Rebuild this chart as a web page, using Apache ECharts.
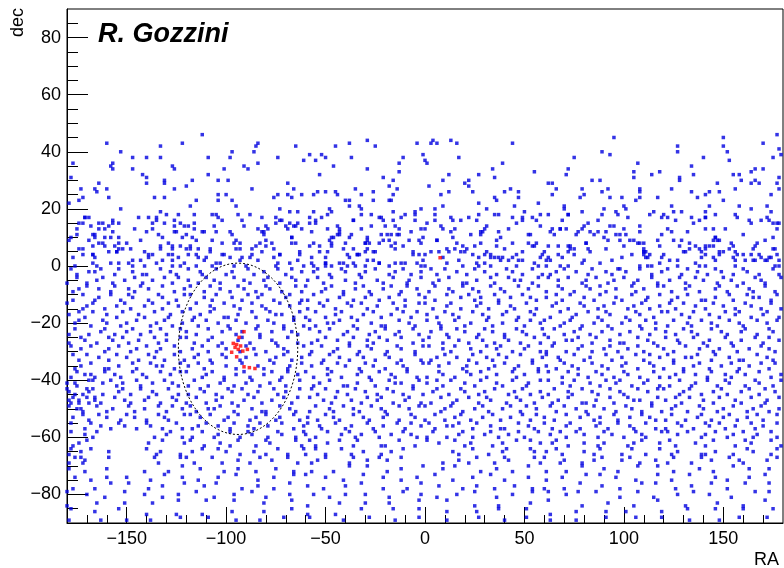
<!DOCTYPE html>
<html><head><meta charset="utf-8">
<script src="https://cdn.jsdelivr.net/npm/echarts@6/dist/echarts.min.js"></script>
<style>html,body{margin:0;padding:0;background:#fff}#c{width:784px;height:568px}</style>
</head><body><div id="c"></div>
<script>
// Axis ticks
const xTicks = [-150,-100,-50,0,50,100,150];
const xMinorTicks = [-170,-160,-140,-130,-120,-110,-90,-80,-70,-60,-40,-30,-20,-10,10,20,30,40,60,70,80,90,110,120,130,140,160,170];
const yTicks = [-80,-60,-40,-20,0,20,40,60,80];
const yMinorTicks = [-85,-75,-70,-65,-55,-50,-45,-35,-30,-25,-15,-10,-5,5,10,15,25,30,35,45,50,55,65,70,75,85];
const xTitle = 'RA';
const yTitle = 'dec';
const author = 'R. Gozzini';
const ellipseCenter = [-94, -29];
const ellipseRadii = [30, 30];

// Points as consecutive (RA, dec) pairs
const blueNorthWest = [-112,46,-160,43,-122,43,-84,43,-85,42,-65,42,-133,42,-153,40,-97,40,-86,40,-147,38,-140,38,-133,38,-109,38,-98,38,-74,38,-177,36,-61,37,-157,36,-158,35,-127,35,-157,34,-126,34,-147,34,-101,34,-91,35,-89,34,-84,36,-178,31,-142,32,-140,31,-109,32,-131,30,-131,29,-117,30,-104,30,-99,30,-140,29,-164,29,-69,29,-173,27,-166,27,-160,27,-126,27,-120,28,-87,27,-66,27,-165,26,-74,25,-62,25,-104,25,-100,25,-159,24,-136,24,-131,24,-115,23,-172,24,-174,23,-104,23,-97,23,-69,25,-67,24,-76,24,-179,22,-153,20,-118,21,-95,21,-133,19,-73,20,-68,19,-64,19,-107,18,-105,18,-104,17,-135,17,-124,18,-94,18,-82,17,-169,17,-171,17,-174,15,-172,15,-164,15,-157,15,-154,15,-139,17,-135,16,-137,15,-126,16,-123,15,-116,15,-72,16,-73,16,-75,15,-68,15,-66,14,-70,14,-69,13,-64,15,-80,14,-92,16,-168,14,-161,13,-159,14,-126,14,-164,13,-137,13,-126,12,-121,14,-116,13,-111,12,-105,12,-98,12,-84,13,-82,12,-81,12,-62,13,-175,11,-167,11,-157,12,-134,11,-132,10,-120,11,-166,10,-158,10,-161,10,-154,8,-122,10,-117,10,-107,9,-96,8,-93,8,-80,9,-67,10,-65,8,-83,8,-80,7,-167,7,-164,8,-162,8,-156,7,-154,6,-129,8,-127,7,-118,7,-127,6,-174,6,-159,5,-155,5,-152,6,-141,5,-133,6,-120,6,-114,6,-108,6,-95,6,-87,6,-76,6,-73,4,-63,5,-172,4,-167,4,-143,2,-139,4,-127,4,-124,3,-119,4,-115,4,-110,3,-102,4,-98,3,-87,4,-88,3,-114,3,-167,1,-165,0,-154,1,-147,2,-147,0,-141,0,-135,1,-127,2,-127,0,-123,0,-115,0,-107,0,-103,1,-96,0,-93,2,-90,0,-74,1,-75,0,-64,2,-61,0,-176,0];
const blueNorthMid = [-29,44,-38,43,-45,42,-25,42,-4,43,3,43,4,44,6,43,13,44,16,43,44,43,-58,39,-55,37,-52,39,-50,38,-37,38,-46,35,-11,38,-13,36,-1,39,0,37,1,36,17,38,39,36,34,34,-29,34,-53,32,-13,33,-21,31,-16,30,12,32,9,30,20,29,22,30,22,28,27,32,35,31,55,33,2,28,-18,28,-14,27,-17,23,-35,27,-54,26,-50,26,-45,26,-44,25,-56,25,-26,26,-32,25,-16,25,12,26,8,25,24,26,35,24,36,23,40,26,43,27,47,26,47,24,57,22,-40,23,-38,23,-38,21,-26,23,-18,23,27,22,31,20,-33,21,-32,20,9,21,-56,19,-47,19,-48,20,-5,19,-2,20,5,20,-16,19,45,21,50,19,-58,17,-55,16,-52,17,-32,18,-27,18,-5,18,-5,16,5,18,13,17,14,16,18,16,27,18,26,16,37,18,44,17,49,17,54,17,56,16,58,18,-36,16,-22,17,-21,16,-20,14,-16,16,-15,14,-12,17,-58,15,-49,13,-44,14,-43,12,-32,13,-7,12,-2,13,0,13,8,14,9,13,30,13,29,12,28,11,23,11,37,12,42,13,53,11,-47,10,-46,10,-43,11,-37,11,-38,10,-22,11,-19,11,-17,11,-13,11,-58,7,-53,7,-47,8,-47,7,-29,9,-30,8,-28,8,-23,8,-21,9,-17,7,-15,8,-8,9,-3,9,6,9,14,10,19,7,21,6,15,6,28,8,36,7,52,8,56,8,55,7,-36,6,-29,6,-30,5,-34,4,-33,4,-39,4,-49,5,-50,3,-26,5,-6,5,-3,4,0,4,7,5,12,5,18,5,24,4,27,3,31,5,33,4,33,3,37,3,39,3,44,3,46,4,49,2,58,3,-57,1,-56,0,-50,1,-50,0,-47,0,-43,1,-41,1,-39,0,-36,1,-35,0,-30,0,-26,2,-23,1,-18,0,-15,1,-10,1,-4,1,-2,0,0,0,11,1,19,0,27,0,30,1,33,0,38,2,46,0,47,2,57,0];
const blueNorthEast = [95,45,150,45,177,46,127,42,127,40,89,40,93,39,75,38,170,43,150,42,152,40,140,38,153,37,175,38,179,39,178,41,107,36,134,35,72,34,71,32,105,33,105,31,114,32,118,33,135,32,128,31,128,30,155,32,158,32,159,30,164,33,166,34,170,34,62,29,64,29,66,27,84,30,88,30,92,27,89,26,79,27,80,25,78,24,64,25,108,27,108,26,124,27,164,29,166,30,168,29,177,29,178,31,178,27,147,29,134,26,141,25,143,26,148,26,156,27,174,25,93,24,99,24,106,23,108,24,117,24,137,24,150,23,70,21,70,20,90,20,89,18,100,21,101,20,79,19,96,19,97,18,124,21,125,19,115,19,141,19,143,21,141,17,158,21,164,20,172,21,174,19,62,18,72,18,129,19,134,17,119,17,120,18,122,17,138,16,146,18,157,17,172,17,173,16,175,15,69,16,64,13,68,13,71,13,77,12,80,14,79,13,83,12,85,11,87,12,90,10,95,14,100,13,96,11,98,11,108,12,124,12,141,13,145,13,163,16,177,13,177,15,65,11,125,9,129,9,146,10,148,9,103,9,105,9,98,9,67,7,73,7,81,8,82,6,108,8,110,8,110,6,118,7,133,8,133,6,141,7,141,6,143,7,145,7,145,9,148,5,155,7,167,8,175,6,60,5,62,3,63,2,72,5,73,6,75,4,79,1,94,2,110,5,111,5,110,4,113,4,112,3,119,3,123,2,130,5,139,5,141,4,145,3,150,5,153,6,156,5,160,4,164,4,168,4,169,3,171,2,172,2,173,3,177,4,178,2,61,0,68,0,72,0,98,-1,108,0,112,0,114,0,127,0,136,1,138,0,141,0,156,2,156,0,161,2,166,2,176,0,178,0];
const blueNorthFill = [-177,3,-166,3,-158,1,-149,1,-139,3,-132,2,-121,1,-111,2,-105,1,-92,3,-84,2,-76,3,-68,1,
-172,6,-167,4,-155,5,-148,6,-137,4,-129,4,-118,6,-108,5,-101,4,-93,6,-82,5,-73,4,-63,4,
-179,9,-169,9,-161,7,-150,8,-143,9,-133,7,-123,7,-115,9,-102,8,-95,9,-85,7,-77,8,-67,8,
-178,10,-166,11,-154,10,-140,12,-125,12,-112,12,-97,11,-81,11,-67,10,
-175,13,-162,15,-146,13,-131,15,-119,14,-106,14,-91,14,-79,13,-65,14,
-171,17,-157,16,-144,17,-130,18,-116,18,-102,16,-88,18,-75,17,
-57,3,-50,1,-38,3,-29,2,-23,1,-12,1,-1,2,9,3,17,2,26,1,35,3,42,2,55,1,
-53,5,-41,6,-34,4,-25,5,-15,6,-6,4,3,5,11,6,20,5,30,4,40,6,49,5,59,4,
-56,8,-48,9,-40,8,-30,8,-18,9,-11,7,-2,8,6,9,16,8,25,7,36,9,44,8,54,7,
-57,12,-44,11,-29,10,-14,11,-1,10,13,12,28,12,38,10,52,11,
-55,15,-43,13,-27,14,-13,13,1,15,15,13,31,14,46,15,58,14,
-49,18,-36,16,-23,17,-10,18,5,16,22,17,35,18,49,16,
61,2,69,3,80,2,88,1,99,3,111,3,118,1,127,2,139,3,146,2,155,3,165,2,174,3,
67,4,75,6,83,5,91,6,104,4,110,5,120,4,131,5,138,6,148,4,157,4,165,6,176,6,
62,7,72,7,81,8,92,9,100,7,107,8,117,9,128,7,136,7,147,9,154,8,166,7,171,9,
63,12,76,11,91,12,101,11,119,11,132,12,146,10,160,11,175,10,
68,13,82,15,93,14,108,14,122,13,135,15,151,13,164,15,178,15,
72,18,87,16,102,17,113,18,126,16,141,17,156,18,169,16];
const blueSouthWest = [-178,-1,-175,-3,-169,-2,-166,-2,-163,-1,-156,-3,-154,-1,-147,-2,-142,-3,-140,-3,-133,-1,-128,-2,-125,-3,-119,-1,-113,-2,-112,-3,-105,-1,-100,-3,-97,-2,-89,-1,-86,-3,-81,-2,-74,-1,-70,-3,-67,-1,-62,-2,
-180,-6,-175,-4,-170,-6,-165,-5,-162,-4,-157,-6,-151,-5,-146,-4,-142,-6,-137,-5,-131,-4,-127,-6,-124,-4,-119,-5,-114,-6,-110,-4,-106,-5,-103,-6,-96,-4,-91,-5,-88,-6,-81,-5,-79,-4,-73,-6,-67,-4,-65,-5,
-177,-9,-174,-8,-170,-7,-164,-8,-158,-9,-156,-7,-149,-8,-146,-9,-143,-7,-139,-8,-132,-7,-126,-9,-121,-8,-118,-7,-111,-9,-108,-7,-103,-8,-98,-9,-94,-7,-91,-8,-85,-9,-80,-7,-78,-8,-72,-9,-65,-7,-62,-9,
-177,-12,-172,-10,-166,-12,-164,-11,-158,-10,-153,-12,-149,-10,-147,-11,-139,-12,-134,-10,-132,-11,-125,-12,-121,-10,-118,-10,-111,-11,-107,-12,-105,-10,-97,-11,-92,-12,-89,-10,-84,-11,-82,-10,-76,-12,-70,-11,-68,-10,-62,-12,
-180,-13,-172,-15,-170,-14,-167,-13,-161,-15,-155,-14,-151,-13,-148,-15,-141,-14,-137,-13,-132,-15,-129,-13,-124,-14,-118,-15,-115,-13,-108,-14,-106,-15,-101,-13,-96,-14,-93,-15,-87,-13,-82,-14,-80,-15,-73,-13,-68,-14,-63,-13,
-179,-17,-174,-16,-171,-18,-167,-16,-160,-17,-155,-18,-152,-16,-144,-17,-141,-18,-136,-16,-129,-18,-128,-17,-122,-16,-116,-18,-113,-17,-108,-16,-101,-18,-99,-18,-94,-17,-87,-16,-85,-18,-78,-16,-75,-17,-72,-17,-66,-18,-63,-16,
-176,-20,-174,-19,-168,-21,-162,-19,-160,-20,-153,-21,-150,-20,-145,-19,-138,-21,-135,-20,-131,-19,-127,-21,-122,-20,-117,-19,-114,-21,-110,-19,-104,-20,-99,-21,-95,-19,-90,-20,-84,-21,-79,-19,-76,-20,-71,-21,-66,-19,-61,-21,
-179,-24,-176,-22,-169,-24,-163,-23,-161,-22,-156,-24,-150,-23,-147,-22,-143,-24,-138,-23,-133,-22,-130,-24,-123,-22,-120,-23,-115,-24,-109,-22,-102,-23,-98,-22,-95,-24,-92,-23,-85,-22,-83,-24,-77,-23,-71,-22,-67,-23,-64,-24,
-179,-27,-173,-25,-171,-26,-165,-27,-159,-25,-157,-26,-152,-25,-149,-27,-144,-26,-136,-25,-134,-27,-130,-26,-123,-25,-120,-25,-116,-27,-109,-26,-107,-25,-102,-27,-94,-26,-92,-25,-88,-27,-83,-25,-77,-26,-75,-27,-69,-25,-64,-27,
-178,-28,-173,-29,-168,-28,-161,-30,-159,-29,-154,-28,-148,-30,-145,-29,-140,-28,-135,-30,-133,-29,-126,-28,-123,-30,-117,-29,-112,-28,-109,-30,-104,-28,-100,-29,-93,-30,-90,-28,-86,-29,-80,-30,-74,-28,-71,-29,-69,-30,-61,-28,
-116,-32,-114,-31,-108,-33,-102,-31,-100,-32,-93,-33,-90,-32,-85,-31,-78,-33,-75,-32,-71,-31,-67,-33,-62,-32,-177,-31,-174,-33,-170,-31,-164,-32,-159,-33,-155,-31,-150,-32,-144,-33,-139,-31,-136,-32,-131,-33,-126,-31,-121,-33,
-119,-35,-114,-34,-111,-36,-107,-34,-100,-35,-95,-36,-92,-34,-84,-35,-81,-36,-76,-34,-69,-36,-68,-35,-62,-34,-176,-36,-173,-35,-168,-34,-161,-36,-159,-36,-154,-35,-147,-34,-145,-36,-138,-34,-135,-35,-132,-35,-126,-36,-123,-34,
-120,-37,-112,-39,-110,-38,-107,-37,-101,-39,-95,-38,-91,-37,-88,-39,-81,-38,-77,-37,-72,-39,-69,-37,-64,-38,-178,-39,-175,-37,-168,-38,-166,-39,-161,-37,-156,-38,-153,-39,-147,-37,-142,-38,-140,-39,-133,-37,-128,-38,-123,-37,
-119,-42,-116,-40,-109,-42,-103,-41,-101,-40,-96,-42,-90,-41,-87,-40,-83,-42,-78,-41,-73,-40,-70,-42,-63,-40,-180,-41,-175,-42,-169,-40,-162,-41,-158,-40,-155,-42,-152,-41,-145,-40,-143,-42,-137,-41,-131,-40,-127,-41,-124,-42,
-119,-45,-113,-43,-111,-44,-105,-45,-99,-43,-97,-44,-92,-43,-89,-45,-84,-44,-76,-43,-74,-45,-70,-44,-63,-43,-180,-43,-176,-45,-169,-44,-167,-43,-162,-45,-154,-44,-152,-43,-148,-45,-143,-43,-137,-44,-135,-45,-129,-43,-124,-45,
-120,-48,-115,-46,-110,-48,-105,-47,-102,-46,-97,-48,-91,-47,-86,-46,-82,-48,-77,-47,-71,-46,-67,-48,-64,-46,-179,-47,-174,-48,-170,-46,-166,-47,-163,-48,-156,-46,-151,-47,-148,-48,-141,-47,-139,-46,-133,-48,-127,-46,-125,-47,
-118,-49,-115,-51,-109,-50,-106,-50,-103,-49,-96,-51,-94,-49,-87,-50,-82,-51,-80,-51,-73,-49,-68,-50,-65,-51,-179,-49,-173,-50,-172,-51,-165,-49,-160,-51,-157,-50,-149,-49,-146,-51,-141,-50,-134,-49,-130,-51,-127,-49,-122,-50,
-118,-52,-113,-53,-108,-52,-101,-54,-99,-53,-94,-52,-88,-54,-85,-53,-80,-52,-75,-54,-73,-53,-66,-52,-63,-54,-177,-53,-172,-52,-169,-54,-164,-52,-160,-53,-153,-54,-150,-52,-146,-53,-140,-54,-134,-52,-131,-53,-129,-54,-121,-52,
-117,-57,-114,-56,-110,-55,-104,-56,-98,-57,-96,-55,-89,-56,-86,-57,-83,-55,-79,-56,-72,-55,-66,-57,-61,-56,-178,-55,-171,-57,-168,-55,-163,-56,-158,-57,-154,-55,-151,-56,-145,-57,-140,-55,-138,-56,-132,-57,-125,-55,-122,-57,
-117,-60,-112,-58,-106,-60,-104,-59,-98,-58,-93,-60,-89,-58,-87,-59,-79,-60,-74,-58,-72,-59,-65,-60,-61,-58,-178,-58,-171,-59,-167,-60,-165,-58,-136,-60,-130,-59,-128,-58,-122,-60,
-177,-63,-174,-62,-170,-61,-139,-62,-132,-61,-121,-62,-118,-61,-111,-63,-103,-62,-98,-63,-94,-61,-85,-63,-80,-61,-78,-62,-65,-61,-62,-63,
-178,-64,-173,-65,-168,-64,-159,-65,-140,-64,-135,-66,-133,-65,-123,-66,-117,-65,-112,-64,-104,-64,-100,-65,-93,-66,-86,-65,-80,-66,-74,-64,-69,-66,-61,-64,-179,-66,-176,-67,-172,-69,
-179,-69,-173,-67,-171,-68,-159,-67,-136,-67,-134,-69,-123,-67,-120,-67,-116,-69,-107,-67,-102,-69,-94,-68,-88,-69,-83,-67,-77,-68,-69,-67,-64,-69,
-179,-71,-171,-72,-160,-71,-141,-72,-129,-72,-122,-70,-113,-71,-101,-72,-94,-71,-85,-72,-75,-71,-66,-72,
-176,-74,-168,-75,-160,-74,-150,-74,-138,-75,-131,-73,-122,-74,-114,-75,-104,-74,-95,-73,-84,-75,-76,-74,-66,-73,
-177,-78,-166,-78,-158,-76,-149,-76,-139,-78,-132,-77,-121,-76,-111,-77,-105,-76,-92,-78,-84,-77,-76,-78,-68,-76,
-180,-79,-170,-80,-161,-81,-151,-79,-141,-80,-132,-81,-124,-80,-115,-79,-106,-81,-96,-80,-87,-79,-80,-81,-68,-80,
-180,-84,-165,-83,-151,-83,-137,-83,-124,-82,-110,-82,-96,-82,-81,-83,-67,-82,
-178,-85,-166,-86,-154,-85,-140,-87,-125,-87,-112,-87,-97,-86,-81,-86,-67,-85,
-179,-89,-163,-89,-150,-89,-138,-89,-123,-88,-109,-88,-95,-89,-83,-89,-71,-88,
-179,-44,-177,-46,-176,-41,-174,-47,-172,-45,-170,-43,-169,-48,-167,-40,-178,-48,-175,-50,-171,-38,-166,-46];
const blueSouthMid = [-56,-2,-54,-1,-48,-3,-42,-1,-40,-2,-33,-3,-30,-2,-25,-1,-18,-3,-15,-2,-11,-1,-7,-3,-2,-2,3,-1,6,-3,10,-1,16,-2,21,-3,25,-1,30,-2,36,-3,41,-1,44,-2,49,-3,54,-1,59,-3,
-59,-5,-54,-4,-51,-6,-47,-4,-40,-5,-35,-6,-32,-4,-24,-5,-21,-6,-16,-4,-9,-6,-8,-5,-2,-4,4,-6,7,-5,12,-4,19,-6,21,-6,26,-5,33,-4,35,-6,42,-4,45,-5,48,-5,54,-6,57,-4,
-60,-7,-52,-9,-50,-8,-47,-7,-41,-9,-35,-8,-31,-7,-28,-9,-21,-8,-17,-7,-12,-9,-9,-7,-4,-8,2,-9,5,-7,12,-8,14,-9,19,-7,24,-8,27,-9,33,-7,38,-8,40,-9,47,-7,52,-8,57,-7,
-59,-12,-56,-10,-49,-12,-43,-11,-41,-10,-36,-12,-30,-11,-27,-10,-23,-12,-18,-11,-13,-10,-10,-12,-3,-10,0,-11,5,-12,11,-10,18,-11,22,-10,25,-12,28,-11,35,-10,37,-12,43,-11,49,-10,53,-11,56,-12,
-59,-15,-53,-13,-51,-14,-45,-15,-39,-13,-37,-14,-32,-13,-29,-15,-24,-14,-16,-13,-14,-15,-10,-14,-3,-13,0,-13,4,-15,11,-14,13,-13,18,-15,26,-14,28,-13,32,-15,37,-13,43,-14,45,-15,51,-13,56,-15,
-60,-18,-55,-16,-50,-18,-45,-17,-42,-16,-37,-18,-31,-17,-26,-16,-22,-18,-17,-17,-11,-16,-7,-18,-4,-16,1,-17,6,-18,10,-16,14,-17,17,-18,24,-16,29,-17,32,-18,39,-17,41,-16,47,-18,53,-16,55,-17,
-58,-19,-55,-21,-49,-20,-46,-20,-43,-19,-36,-21,-34,-19,-27,-20,-22,-21,-20,-21,-13,-19,-8,-20,-5,-21,1,-19,7,-20,8,-21,15,-19,20,-21,23,-20,31,-19,34,-21,39,-20,46,-19,50,-21,53,-19,58,-20,
-58,-22,-53,-23,-48,-22,-41,-24,-39,-23,-34,-22,-28,-24,-25,-23,-20,-22,-15,-24,-13,-23,-6,-22,-3,-24,3,-23,8,-22,11,-24,16,-22,20,-23,27,-24,30,-22,34,-23,40,-24,46,-22,49,-23,51,-24,59,-22,
-57,-27,-54,-26,-50,-25,-44,-26,-38,-27,-36,-25,-29,-26,-26,-27,-23,-25,-19,-26,-12,-25,-6,-27,-1,-26,2,-25,9,-27,12,-25,17,-26,22,-27,26,-25,29,-26,35,-27,40,-25,42,-26,48,-27,55,-25,58,-27,
-57,-30,-52,-28,-46,-30,-44,-29,-38,-28,-33,-30,-29,-28,-27,-29,-19,-30,-14,-28,-12,-29,-5,-30,-1,-28,2,-28,9,-29,13,-30,15,-28,23,-29,28,-30,31,-28,36,-29,38,-28,44,-30,50,-29,52,-28,58,-30,
3,-33,6,-32,10,-31,16,-32,22,-33,24,-31,31,-32,34,-33,37,-31,41,-32,48,-31,54,-33,59,-32,-58,-31,-51,-33,-48,-31,-43,-32,-38,-33,-34,-31,-31,-32,-25,-33,-20,-31,-18,-32,-12,-33,-5,-31,-2,-33,
2,-34,7,-35,12,-34,19,-36,21,-35,26,-34,32,-36,35,-35,40,-34,45,-36,47,-35,54,-34,57,-36,-57,-35,-52,-34,-49,-36,-44,-34,-40,-35,-33,-36,-30,-34,-26,-35,-20,-36,-14,-34,-11,-35,-9,-36,-1,-34,
1,-39,7,-37,9,-38,15,-39,21,-37,23,-38,28,-37,31,-39,36,-38,44,-37,46,-39,50,-38,57,-37,-60,-37,-56,-39,-49,-38,-47,-37,-42,-39,-34,-38,-32,-37,-28,-39,-23,-37,-17,-38,-15,-39,-9,-37,-4,-39,
1,-41,6,-40,9,-42,13,-40,20,-41,25,-42,28,-40,36,-41,39,-42,44,-40,51,-42,52,-41,58,-40,-56,-42,-53,-41,-48,-40,-41,-42,-39,-42,-34,-41,-27,-40,-25,-42,-18,-40,-15,-41,-12,-41,-6,-42,-3,-40,
4,-44,6,-43,12,-45,18,-43,20,-44,27,-45,30,-44,35,-43,42,-45,45,-44,49,-43,53,-45,58,-44,-57,-43,-54,-45,-50,-43,-44,-44,-39,-45,-35,-43,-30,-44,-24,-45,-19,-43,-16,-44,-11,-45,-6,-43,-1,-45,
3,-48,8,-46,14,-48,16,-47,22,-46,27,-48,31,-46,33,-47,41,-48,46,-46,48,-47,55,-48,59,-46,-58,-46,-51,-47,-47,-48,-45,-46,-37,-47,-32,-48,-29,-46,-24,-47,-22,-46,-16,-48,-10,-47,-8,-46,-2,-48,
0,-49,8,-51,10,-50,13,-49,19,-51,25,-50,29,-49,32,-51,39,-50,43,-49,48,-51,51,-49,56,-50,-58,-51,-55,-49,-48,-50,-46,-51,-41,-49,-36,-50,-33,-51,-27,-49,-22,-50,-20,-51,-13,-49,-8,-50,-3,-49,
0,-54,5,-52,10,-54,15,-53,18,-52,23,-54,29,-53,34,-52,38,-54,43,-53,49,-52,53,-54,56,-52,-59,-53,-54,-54,-50,-52,-46,-53,-43,-54,-36,-52,-31,-53,-28,-54,-21,-53,-19,-52,-13,-54,-7,-52,-5,-53,
2,-55,5,-57,11,-56,14,-56,17,-55,24,-57,26,-55,33,-56,38,-57,40,-57,47,-55,52,-56,55,-57,-59,-55,-53,-56,-52,-57,-45,-55,-40,-57,-37,-56,-29,-55,-26,-57,-21,-56,-14,-55,-10,-57,-7,-55,-2,-56,
1,-60,4,-58,11,-60,17,-59,19,-58,24,-60,30,-59,33,-58,37,-60,42,-59,47,-58,50,-60,57,-58,-60,-59,-55,-60,-49,-58,-42,-59,-38,-58,-35,-60,-32,-59,-25,-58,-23,-60,-17,-59,-11,-58,-7,-59,-4,-60,
-58,-61,-55,-63,-49,-62,-43,-61,-36,-63,-34,-61,-22,-63,-20,-63,-13,-61,-5,-63,1,-61,7,-62,15,-61,20,-63,23,-62,34,-63,39,-62,46,-61,53,-61,58,-62,
-60,-66,-55,-64,-50,-66,-42,-64,-37,-66,-31,-65,-22,-66,-17,-65,-11,-64,14,-65,17,-66,24,-64,32,-66,39,-65,41,-64,53,-64,55,-65,
-57,-69,-54,-68,-50,-67,-38,-69,-36,-67,-29,-68,-23,-67,-19,-68,-12,-67,9,-69,17,-68,22,-69,26,-67,35,-69,40,-67,42,-68,55,-67,58,-69,
-57,-72,-46,-72,-38,-70,-29,-70,-19,-72,-12,-71,-1,-70,9,-71,15,-70,28,-72,36,-71,44,-72,52,-70,
-60,-73,-50,-74,-41,-75,-31,-73,-21,-74,-12,-75,-4,-74,5,-73,14,-75,24,-74,33,-73,40,-75,52,-74,
-59,-77,-51,-78,-40,-77,-32,-76,-21,-78,-9,-78,-2,-76,7,-77,19,-78,26,-77,35,-78,45,-77,54,-78,
-56,-80,-48,-81,-40,-80,-30,-80,-18,-81,-11,-79,-2,-80,6,-81,16,-80,25,-79,36,-81,44,-80,54,-79,
-59,-84,-43,-83,-30,-83,-18,-83,-3,-82,11,-82,25,-84,37,-84,53,-83,
-59,-87,-45,-87,-32,-85,-16,-85,-3,-85,11,-86,26,-86,37,-85,51,-85,
-58,-88,-41,-89,-28,-88,-15,-89,-3,-88,11,-89,27,-88,40,-89,51,-88];
const blueSouthEast = [63,-3,66,-2,70,-1,76,-2,82,-3,84,-1,91,-2,94,-3,97,-1,101,-2,108,-1,114,-3,119,-2,122,-1,129,-3,132,-1,137,-2,142,-3,146,-1,149,-2,155,-3,160,-1,162,-2,168,-3,175,-1,178,-3,
62,-4,67,-5,72,-4,79,-6,81,-5,86,-4,92,-6,95,-5,100,-4,105,-6,107,-5,114,-4,117,-6,123,-5,128,-4,131,-6,136,-4,140,-5,147,-6,150,-4,154,-5,160,-6,166,-4,169,-5,171,-6,179,-4,
61,-9,67,-7,69,-8,75,-9,81,-7,83,-8,88,-7,91,-9,96,-8,104,-7,106,-9,110,-8,117,-7,120,-7,124,-9,131,-8,133,-7,138,-9,146,-8,148,-7,152,-9,157,-7,163,-8,165,-9,171,-7,176,-9,
61,-11,66,-10,69,-12,73,-10,80,-11,85,-12,88,-10,96,-11,99,-12,104,-10,111,-12,112,-11,118,-10,124,-12,127,-11,132,-10,139,-12,141,-12,146,-11,153,-10,155,-12,162,-10,165,-11,168,-11,174,-12,177,-10,
64,-14,66,-13,72,-15,78,-13,80,-14,87,-15,90,-14,95,-13,102,-15,105,-14,109,-13,113,-15,118,-14,123,-13,126,-15,130,-13,136,-14,141,-15,145,-13,150,-14,156,-15,161,-13,164,-14,169,-15,174,-13,179,-15,
63,-18,68,-16,74,-18,76,-17,82,-16,87,-18,91,-16,93,-17,101,-18,106,-16,108,-17,115,-18,119,-16,122,-16,129,-17,133,-18,135,-16,143,-17,148,-18,151,-16,156,-17,158,-16,164,-18,170,-17,172,-16,178,-18,
60,-19,68,-21,70,-20,73,-19,79,-21,85,-20,89,-19,92,-21,99,-20,103,-19,108,-21,111,-19,116,-20,122,-21,125,-19,132,-20,134,-21,139,-19,144,-20,147,-21,153,-19,158,-20,160,-21,167,-19,172,-20,177,-19,
60,-24,65,-22,70,-24,75,-23,78,-22,83,-24,89,-23,94,-22,98,-24,103,-23,109,-22,113,-24,116,-22,121,-23,126,-24,130,-22,134,-23,137,-24,144,-22,149,-23,152,-24,159,-23,161,-22,167,-24,173,-22,175,-23,
62,-25,65,-27,71,-26,74,-26,77,-25,84,-27,86,-25,93,-26,98,-27,100,-27,107,-25,112,-26,115,-27,121,-25,127,-26,128,-27,135,-25,140,-27,143,-26,151,-25,154,-27,159,-26,166,-25,170,-27,173,-25,178,-26,
61,-30,64,-28,71,-30,77,-29,79,-28,84,-30,90,-29,93,-28,97,-30,102,-29,107,-28,110,-30,117,-28,120,-29,125,-30,131,-28,138,-29,142,-28,145,-30,148,-29,155,-28,157,-30,163,-29,169,-28,173,-29,176,-30,
122,-31,125,-33,131,-32,134,-32,137,-31,144,-33,146,-31,153,-32,158,-33,160,-33,167,-31,172,-32,175,-33,61,-31,67,-32,68,-33,75,-31,80,-33,83,-32,91,-31,94,-33,99,-32,106,-31,110,-33,113,-31,118,-32,
120,-36,125,-34,130,-36,135,-35,138,-34,143,-36,149,-35,154,-34,158,-36,163,-35,169,-34,173,-36,176,-34,61,-35,66,-36,70,-34,74,-35,77,-36,84,-34,89,-35,92,-36,99,-35,101,-34,107,-36,113,-34,115,-35,
123,-39,126,-38,130,-37,136,-38,142,-39,144,-37,151,-38,154,-39,157,-37,161,-38,168,-37,174,-39,179,-38,62,-37,69,-39,72,-37,77,-38,82,-39,86,-37,89,-38,95,-39,100,-37,102,-38,108,-39,115,-37,118,-39,
123,-42,128,-40,134,-42,136,-41,142,-40,147,-42,151,-40,153,-41,161,-42,166,-40,168,-41,175,-42,179,-40,62,-40,69,-41,73,-42,75,-40,83,-41,88,-42,91,-40,96,-41,98,-40,104,-42,110,-41,112,-40,118,-42,
120,-43,128,-45,130,-44,133,-43,139,-45,145,-44,149,-43,152,-45,159,-44,163,-43,168,-45,171,-43,176,-44,62,-45,65,-43,72,-44,74,-45,79,-43,84,-44,87,-45,93,-43,98,-44,100,-45,107,-43,112,-44,117,-43,
121,-47,126,-46,129,-48,133,-46,140,-47,145,-48,148,-46,156,-47,159,-48,164,-46,171,-48,172,-47,178,-46,64,-48,67,-47,72,-46,79,-48,81,-48,86,-47,93,-46,95,-48,102,-46,105,-47,108,-47,114,-48,117,-46,
124,-50,126,-49,132,-51,138,-49,140,-50,147,-51,150,-50,155,-49,162,-51,165,-50,169,-49,173,-51,178,-50,63,-49,66,-51,70,-49,76,-50,81,-51,85,-49,90,-50,96,-51,101,-49,104,-50,109,-51,114,-49,119,-51,
121,-54,124,-52,131,-54,137,-53,139,-52,144,-54,150,-53,153,-52,157,-54,162,-53,167,-52,170,-54,177,-52,60,-53,65,-54,71,-52,78,-53,82,-52,85,-54,88,-53,95,-52,97,-54,103,-53,109,-52,113,-53,116,-54,
121,-57,127,-55,129,-56,135,-57,141,-55,143,-56,148,-55,151,-57,156,-56,164,-55,166,-57,170,-56,177,-55,60,-55,64,-57,71,-56,73,-55,78,-57,86,-56,88,-55,92,-57,97,-55,103,-56,105,-57,111,-55,116,-57,
122,-58,127,-59,132,-58,139,-60,141,-59,146,-58,152,-60,155,-59,160,-58,165,-60,167,-59,174,-58,177,-60,63,-59,68,-58,71,-60,76,-58,80,-59,87,-60,90,-58,94,-59,100,-60,106,-58,109,-59,111,-60,119,-58,
64,-62,66,-61,72,-63,80,-62,87,-63,90,-62,102,-63,105,-62,109,-61,118,-62,123,-61,126,-63,136,-62,141,-63,145,-61,156,-63,161,-61,164,-62,174,-61,179,-63,
61,-65,66,-64,69,-66,80,-65,85,-66,88,-64,99,-66,104,-64,111,-66,118,-64,124,-66,127,-65,139,-66,141,-66,146,-65,155,-66,162,-64,165,-65,174,-66,177,-64,
60,-67,68,-69,70,-68,79,-69,85,-68,89,-67,99,-68,103,-67,108,-69,116,-68,122,-69,125,-67,134,-69,139,-67,144,-68,153,-67,158,-68,160,-69,172,-68,177,-67,
61,-72,71,-72,79,-70,90,-71,97,-72,107,-70,117,-70,125,-72,138,-71,145,-72,155,-70,163,-71,173,-71,
61,-75,69,-74,81,-73,88,-73,96,-74,106,-75,117,-73,124,-75,133,-73,146,-74,152,-75,163,-74,171,-73,
60,-78,70,-78,78,-76,89,-77,98,-78,109,-76,116,-76,126,-78,134,-77,144,-76,152,-78,161,-76,173,-76,
62,-79,71,-80,77,-79,86,-79,98,-81,107,-79,115,-81,127,-80,135,-79,143,-80,154,-81,166,-79,173,-79,
62,-82,79,-84,92,-83,105,-84,117,-82,131,-84,147,-83,160,-84,171,-82,
63,-87,76,-86,91,-86,101,-86,119,-86,132,-85,146,-85,160,-85,175,-85,
63,-89,76,-89,91,-88,106,-88,119,-88,133,-89,148,-89,158,-88,172,-88];
const redPoints = [-91,-23,-93.5,-25,-96.4,-27.1,-94.7,-27.5,-92.7,-28,-93.9,-29.2,-97.2,-30.2,-91.6,-29.8,-94.7,-31.8,-89.3,-29.2,-91,-35.3,-88.3,-35.6,-85.5,-35.9,-95.5,-28.5,7.6,2.9];

function pairs(a){const r=[];for(let i=0;i<a.length;i+=2)r.push([a[i],a[i+1]]);return r;}
const blueData = [].concat(pairs(blueNorthWest),pairs(blueNorthMid),pairs(blueNorthEast),pairs(blueNorthFill),pairs(blueSouthWest),pairs(blueSouthMid),pairs(blueSouthEast));
const redData = pairs(redPoints);

const FONT = '"Liberation Sans", Arial, Helvetica, sans-serif';
const fmt = v => String(v).replace('-', '\u2212');
const chart = echarts.init(document.getElementById('c'), null, {renderer:'canvas'});
const labelStyle = {fontSize:18, fontFamily:FONT, color:'#000'};
chart.setOption({
  animation:false,
  backgroundColor:'#fff',
  grid:{left:67,right:1,top:9,bottom:45,show:true,borderColor:'#000',borderWidth:1,backgroundColor:'transparent'},
  xAxis:[
    {type:'value',min:-180,max:180,position:'bottom',
     axisLine:{show:true,onZero:false,lineStyle:{color:'#000',width:1}},
     axisTick:{show:true,inside:true,length:16,customValues:xTicks,lineStyle:{color:'#000',width:1}},
     axisLabel:Object.assign({customValues:xTicks,formatter:fmt,margin:7},labelStyle),
     splitLine:{show:false}},
    {type:'value',min:-180,max:180,position:'bottom',
     axisLine:{show:false,onZero:false},
     axisTick:{show:true,inside:true,length:8,customValues:xMinorTicks,lineStyle:{color:'#000',width:1}},
     axisLabel:{show:false},splitLine:{show:false}}
  ],
  yAxis:[
    {type:'value',min:-90,max:90,position:'left',
     axisLine:{show:true,onZero:false,lineStyle:{color:'#000',width:1}},
     axisTick:{show:true,inside:true,length:21,customValues:yTicks,lineStyle:{color:'#000',width:1}},
     axisLabel:Object.assign({customValues:yTicks,formatter:fmt,margin:6},labelStyle),
     splitLine:{show:false}},
    {type:'value',min:-90,max:90,position:'left',
     axisLine:{show:false,onZero:false},
     axisTick:{show:true,inside:true,length:11,customValues:yMinorTicks,lineStyle:{color:'#000',width:1}},
     axisLabel:{show:false},splitLine:{show:false}}
  ],
  series:[
    {type:'scatter',xAxisIndex:0,yAxisIndex:0,data:blueData,symbol:'rect',symbolSize:3.5,
     itemStyle:{color:'#0000e0'},silent:true,z:2},
    {type:'scatter',xAxisIndex:0,yAxisIndex:0,data:redData,symbol:'rect',symbolSize:3.5,
     itemStyle:{color:'#ff0000'},silent:true,z:3}
  ]
});

const c = chart.convertToPixel({xAxisIndex:0,yAxisIndex:0}, ellipseCenter);
const e = chart.convertToPixel({xAxisIndex:0,yAxisIndex:0}, [ellipseCenter[0]+ellipseRadii[0], ellipseCenter[1]+ellipseRadii[1]]);
chart.setOption({
  graphic:[
    {type:'ellipse',shape:{cx:c[0],cy:c[1],rx:Math.abs(e[0]-c[0]),ry:Math.abs(c[1]-e[1])},
     style:{fill:null,stroke:'#000',lineWidth:1,lineDash:[2,2]},z:100,silent:true},
    {type:'text',x:98,y:35,z:100,style:{text:author,font:'italic bold 27px '+FONT,fill:'#000',align:'left',verticalAlign:'middle'}},
    {type:'text',x:779,y:560,z:100,style:{text:xTitle,font:'18px '+FONT,fill:'#000',align:'right',verticalAlign:'middle'}},
    {type:'text',x:18,y:8,rotation:Math.PI/2,z:100,style:{text:yTitle,font:'18px '+FONT,fill:'#000',align:'right',verticalAlign:'middle'}}
  ]
});
</script>
</body></html>
